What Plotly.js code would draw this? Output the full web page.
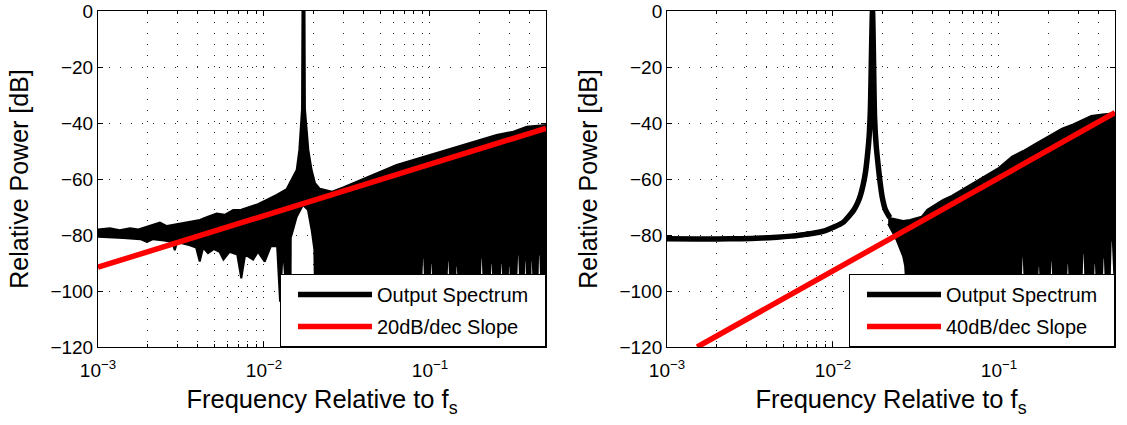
<!DOCTYPE html>
<html>
<head>
<meta charset="utf-8">
<script src="https://cdn.plot.ly/plotly-3.0.1.min.js"></script>
<style>html,body{margin:0;padding:0;background:#fff;} #chart{width:1127px;height:425px;}</style>
</head>
<body>
<div id="chart"></div>
<script>
// ---------- data ----------
// x tick labels
const xTickVals = [0.001, 0.01, 0.1];
const xTickText = ['10<sup>\u22123</sup>', '10<sup>\u22122</sup>', '10<sup>\u22121</sup>'];
const xMinorVals = [0.002,0.003,0.004,0.005,0.006,0.007,0.008,0.009,
                    0.02,0.03,0.04,0.05,0.06,0.07,0.08,0.09,
                    0.2,0.3,0.4];
const yTickVals = [-120,-100,-80,-60,-40,-20,0];

// Left panel: output spectrum envelope (upper edge, left -> right)
const leftUpperF  = [0.001,0.00118,0.00135,0.00156,0.00175,0.00196,0.00236,0.0026,0.00284,0.00358,0.00411,0.0046,0.00519,0.0058,0.00653,0.0073,0.00824,0.0092,0.01038,0.01193,0.01371,0.01469,0.01574,0.01633,0.01695,0.01705,0.01755,0.01765,0.0185,0.01937,0.0203,0.0217,0.0257,0.030,0.0363,0.043,0.05,0.063,0.0793,0.1,0.126,0.159,0.2,0.252,0.318,0.383,0.5];
const leftUpperDb = [-78.0,-77.6,-78.3,-77.6,-78.0,-77.0,-75.6,-76.8,-76.4,-75.2,-74.6,-73.5,-72.3,-72.8,-71.1,-71.0,-69.9,-69.0,-67.5,-65.7,-63.6,-60.4,-56.8,-49.6,-35,0,0,-35,-49.6,-56.8,-61.5,-63.5,-64.5,-63.0,-61.0,-59.0,-57.4,-55.0,-53.2,-51.4,-49.6,-47.9,-46.1,-44.3,-43.1,-41.3,-40.7];
// Left panel: lower edge of the spectrum (left -> right), incl. the white slits near the bottom
const leftLowerF  = [0.001,0.00142,0.0018,0.00197,0.00215,0.0025,0.0028,0.0029,0.0030,0.00358,0.0039,0.0041,0.0043,0.0046,0.0050,0.0054,0.0057,0.0062,0.0069,0.0073,0.0077,0.0086,0.0092,0.0101,0.0110,0.0120,0.0125,0.0130,0.0136,0.01445,0.0145,0.01496,0.01574,0.01717,0.0184,0.01937,0.0201,0.0203,0.021,
  0.0858,0.0897,0.0923,0.0965, 0.0968,0.1005,0.1035,0.108, 0.1217,0.1271,0.1309,0.1367, 0.1368,0.1429,0.1472,0.1537,
  0.1934,0.202,0.208,0.2173, 0.2217,0.2315,0.2385,0.2491, 0.2547,0.266,0.274,0.2862, 0.2875,0.2956,0.3045,0.318,
  0.3208,0.335,0.345,0.3604, 0.3615,0.3695,0.3806,0.3975, 0.398,0.404,0.416,0.4346, 0.4365,0.448,0.462,0.482,
  0.484,0.4885,0.4975,0.5];
const leftLowerDb = [-80.6,-81.1,-81.5,-82.5,-81.5,-82.0,-82.5,-85.4,-82.5,-83.7,-84.5,-89.5,-84.5,-86.5,-85.0,-86.0,-88.8,-86.0,-87.0,-95.5,-87.0,-88.8,-86.0,-89.5,-84.0,-84.0,-103.8,-84.0,-100,-100,-81.0,-78.2,-73.5,-69.3,-71.0,-78.2,-85.0,-100,-120,
  -120,-88,-88,-120, -120,-90,-90,-120, -120,-89,-89,-120, -120,-91,-91,-120,
  -120,-88,-88,-120, -120,-90,-90,-120, -120,-90,-90,-120, -120,-91,-91,-120,
  -120,-87,-87,-120, -120,-89,-89,-120, -120,-89,-89,-120, -120,-87,-87,-120,
  -120,-86,-86,-100];

// Right panel: low-frequency part and tone (centre of the thick line)
const rightLineF  = [0.001,0.0015,0.002,0.0028,0.0037,0.0046,0.0056,0.0066,0.0076,0.009,0.0103,0.0115,0.0125,0.0133,0.014,0.0146,0.0152,0.0157,0.0161,0.0165,0.0168,0.0173,0.0178,0.0182,0.01875,0.0192,0.0198,0.0207,0.022];
const rightLineDb = [-81.3,-81.4,-81.4,-81.3,-81.1,-80.8,-80.4,-79.9,-79.4,-78.4,-77.0,-75.5,-73.2,-71.2,-68.8,-66.0,-62.0,-57.5,-52.0,-45.0,-35.0,0,-38.0,-48.0,-55.6,-61.0,-66.5,-71.0,-73.8];
// Right panel: shaped noise region, upper and lower edges
const rightNoiseUpperF  = [0.0215,0.0242,0.0265,0.0291,0.0342,0.037,0.042,0.0461,0.052,0.060,0.0726,0.085,0.10,0.12,0.14,0.165,0.198,0.24,0.28,0.327,0.36,0.42,0.5];
const rightNoiseUpperDb = [-73.8,-74.6,-75.0,-74.6,-73.5,-71.0,-69.0,-67.5,-66.0,-63.8,-61.0,-58.5,-56.0,-52.0,-50.0,-47.5,-44.9,-42.0,-40.5,-38.5,-37.5,-37.0,-36.5];
const rightNoiseLowerF  = [0.0215,0.0242,0.0255,0.0265,0.0272,0.0278,0.029,
  0.1311,0.137,0.141,0.1473, 0.1642,0.1714,0.1766,0.1844, 0.1953,0.204,0.21,0.2194, 0.2453,0.2562,0.2639,0.2756,
  0.3047,0.3182,0.3278,0.3424, 0.3566,0.3724,0.3837,0.4007, 0.4038,0.4217,0.4344,0.4537, 0.4551,0.4709,0.4852,0.5];
const rightNoiseLowerDb = [-76.0,-81.8,-85.0,-87.7,-91.0,-100,-120,
  -120,-87.7,-87.7,-120, -120,-91,-91,-120, -120,-89,-89,-120, -120,-90,-90,-120,
  -120,-86.5,-86.5,-120, -120,-90,-90,-120, -120,-88,-88,-120, -120,-82,-82,-100];

// Reference slopes (end points)
const leftSlopeF  = [0.001, 0.5];
const leftSlopeDb = [-91.5, -41.9];
const rightSlopeF  = [0.00152, 0.5];
const rightSlopeDb = [-120, -36.3];

const legendNames = ['Output Spectrum', '20dB/dec Slope', '40dB/dec Slope'];

// ---------- build traces ----------
function polygon(uf, ud, lf, ld) {
  return {
    x: uf.concat(lf.slice().reverse()),
    y: ud.concat(ld.slice().reverse())
  };
}
const leftPoly = polygon(leftUpperF, leftUpperDb, leftLowerF, leftLowerDb);
const rightPoly = polygon(rightNoiseUpperF, rightNoiseUpperDb, rightNoiseLowerF, rightNoiseLowerDb);
const pad = '\u00a0\u00a0';

const traces = [
  {x: leftPoly.x, y: leftPoly.y, xaxis:'x', yaxis:'y', type:'scatter', mode:'lines', fill:'toself',
   fillcolor:'#000', line:{color:'#000', width:2}, showlegend:false, hoverinfo:'skip'},
  {x:[null], y:[null], xaxis:'x', yaxis:'y', type:'scatter', mode:'lines', name:legendNames[0] + pad,
   line:{color:'#000', width:5.5}, legend:'legend', legendgroup:'a'},
  {x: leftSlopeF, y: leftSlopeDb, xaxis:'x', yaxis:'y', type:'scatter', mode:'lines', name:legendNames[1] + pad,
   line:{color:'#ff0000', width:5.5}, legend:'legend', legendgroup:'b'},

  {x: rightPoly.x, y: rightPoly.y, xaxis:'x2', yaxis:'y2', type:'scatter', mode:'lines', fill:'toself',
   fillcolor:'#000', line:{color:'#000', width:2}, showlegend:false, hoverinfo:'skip'},
  {x: rightLineF, y: rightLineDb, xaxis:'x2', yaxis:'y2', type:'scatter', mode:'lines', name:legendNames[0] + pad,
   line:{color:'#000', width:5.5, shape:'spline', smoothing:0.6}, legend:'legend2', legendgroup:'c'},
  {x: rightSlopeF, y: rightSlopeDb, xaxis:'x2', yaxis:'y2', type:'scatter', mode:'lines', name:legendNames[2] + pad,
   line:{color:'#ff0000', width:5.5}, legend:'legend2', legendgroup:'d'}
];

const gridCol = 'rgba(0,0,0,0.85)';
const dash = '1px,10px';
function xAxis(domain, anchor) {
  return {
    type:'log', domain:domain, anchor:anchor, range:[-3, -0.30103], autorange:false,
    showline:true, mirror:'ticks', linecolor:'#000', linewidth:1,
    ticks:'inside', ticklen:5, tickcolor:'#000', tickwidth:1,
    tickmode:'array', tickvals:xTickVals, ticktext:xTickText,
    tickfont:{size:19}, ticklabelstandoff:6,
    showgrid:true, gridcolor:gridCol, griddash:dash, gridwidth:1,
    minor:{tickmode:'array', tickvals:xMinorVals, ticks:'inside', ticklen:3, tickcolor:'#000',
           showgrid:true, gridcolor:gridCol, griddash:dash, gridwidth:1},
    zeroline:false,
    title:{text:'Frequency Relative to f<sub>s</sub>', font:{size:25.5}, standoff:10}
  };
}
function yAxis(anchor) {
  return {
    anchor:anchor, domain:[0,1], range:[-120,0], autorange:false,
    showline:true, mirror:'ticks', linecolor:'#000', linewidth:1,
    ticks:'inside', ticklen:5, tickcolor:'#000', tickwidth:1,
    tickmode:'array', tickvals:yTickVals,
    tickfont:{size:19},
    showgrid:true, gridcolor:gridCol, griddash:dash, gridwidth:1,
    zeroline:false,
    title:{text:'Relative Power [dB]', font:{size:25}, standoff:14}
  };
}
const legendStyle = {
  xanchor:'right', yanchor:'bottom', y:0,
  bgcolor:'#fff', bordercolor:'#000', borderwidth:1,
  font:{size:20, color:'#000'}, itemwidth:74, indentation:12,
  traceorder:'grouped', tracegroupgap:3
};

const layout = {
  width:1127, height:425,
  margin:{l:98, r:12, t:11, b:78},
  paper_bgcolor:'#fff', plot_bgcolor:'#fff',
  font:{family:'"Liberation Sans", Arial, Helvetica, sans-serif', size:19, color:'#000'},
  showlegend:true,
  xaxis: xAxis([0, 0.4405], 'y'),
  yaxis: yAxis('x'),
  xaxis2: xAxis([0.5595, 1], 'y2'),
  yaxis2: yAxis('x2'),
  legend: Object.assign({x:0.4405}, legendStyle),
  legend2: Object.assign({x:1}, legendStyle)
};

Plotly.newPlot('chart', traces, layout, {staticPlot:true, displayModeBar:false});
</script>
</body>
</html>
